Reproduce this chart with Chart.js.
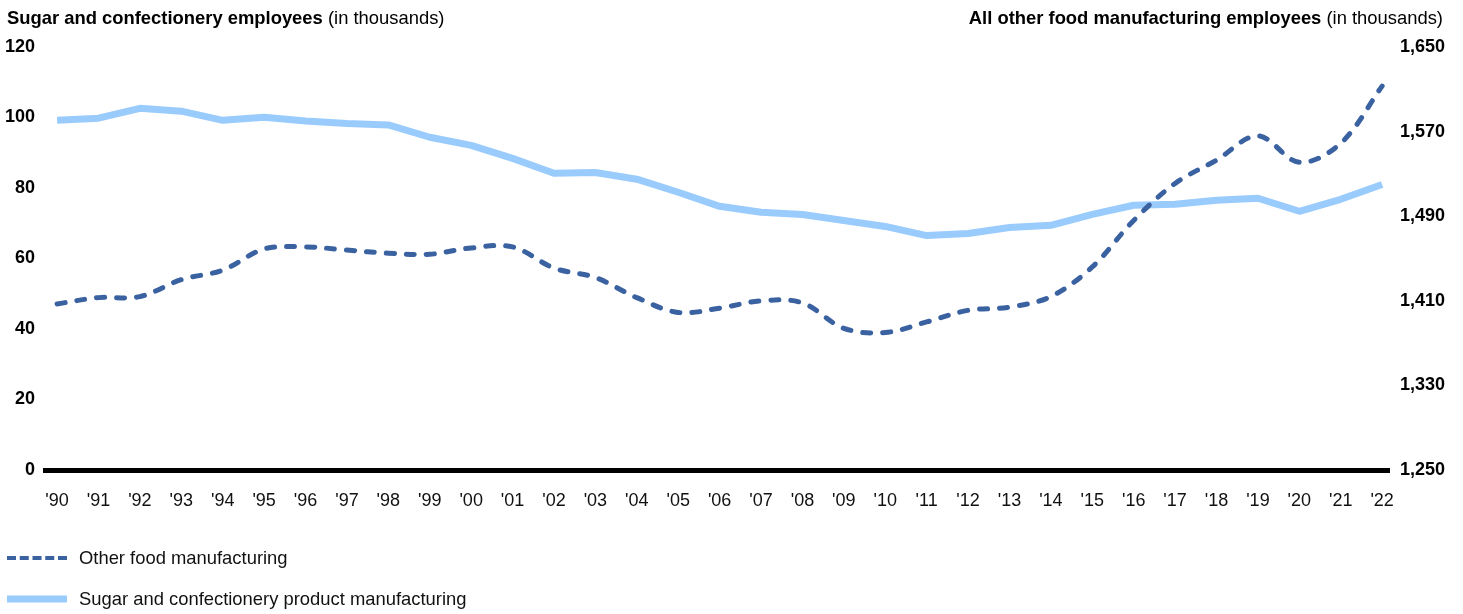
<!DOCTYPE html>
<html>
<head>
<meta charset="utf-8">
<script src="https://cdn.jsdelivr.net/npm/chart.js@4"></script>
<style>
  body { margin: 0; background: #fff; font-family: 'Liberation Sans', Arial, sans-serif; }
  #wrap { position: relative; width: 1463px; height: 614px; }
  #chartBox { position: absolute; left: 0; top: 0; width: 1463px; height: 614px; }
  .title { position: absolute; top: 8px; font-size: 18.4px; line-height: 20px; color: #000; white-space: nowrap; }
  .title b { font-weight: bold; }
  .legend-row { position: absolute; left: 7px; height: 20px; display: flex; align-items: center; font-size: 18.4px; color: #111; white-space: nowrap; }
  .legend-row svg { margin-right: 12px; }
</style>
</head>
<body>
<div id="wrap">
  <div id="chartBox"><canvas id="employeesChart"></canvas></div>

  <div class="title" style="left:7px;"><b>Sugar and confectionery employees</b> (in thousands)</div>
  <div class="title" style="right:20px;"><b>All other food manufacturing employees</b> (in thousands)</div>

  <div class="legend-row" style="top:548px;">
    <svg width="60" height="8"><line x1="0" y1="4" x2="60" y2="4" stroke="#3B62A0" stroke-width="4" stroke-dasharray="9 3.75"/></svg>
    Other food manufacturing
  </div>
  <div class="legend-row" style="top:589px;">
    <svg width="60" height="8"><line x1="0" y1="4" x2="60" y2="4" stroke="#9ACBFD" stroke-width="7"/></svg>
    Sugar and confectionery product manufacturing
  </div>
</div>

<script>
// Years shown on the x axis
const yearLabels = ["'90", "'91", "'92", "'93", "'94", "'95", "'96", "'97", "'98", "'99",
                    "'00", "'01", "'02", "'03", "'04", "'05", "'06", "'07", "'08", "'09",
                    "'10", "'11", "'12", "'13", "'14", "'15", "'16", "'17", "'18", "'19",
                    "'20", "'21", "'22"];

// Sugar and confectionery product manufacturing (thousands, left axis)
const sugarEmployees = [99.2, 99.8, 102.6, 101.8, 99.2, 100.1, 99.0, 98.3, 97.9, 94.4,
                        92.1, 88.4, 84.2, 84.4, 82.5, 78.8, 74.8, 73.1, 72.5, 70.8,
                        69.1, 66.5, 67.1, 68.8, 69.4, 72.5, 75.1, 75.4, 76.5, 77.1,
                        73.4, 76.8, 81.0];

// All other food manufacturing (thousands, right axis)
const otherFoodEmployees = [1407, 1413, 1414, 1430, 1439, 1459, 1461, 1458, 1455, 1454,
                            1460, 1461, 1441, 1432, 1413, 1399, 1403, 1410, 1408, 1384,
                            1380, 1390, 1401, 1404, 1414, 1442, 1486, 1521, 1543, 1566,
                            1541, 1559, 1613];

// Axis tick ranges
const leftTicks = { min: 0, max: 120, step: 20 };
const rightTicks = { min: 1250, max: 1650, step: 80 };

const COLORS = {
  darkBlue: '#3B62A0',
  lightBlue: '#9ACBFD',
  text: '#000',
  xText: '#111',
};

const toPoints = (values) => values.map((v, i) => ({ x: i, y: v }));

const ctx = document.getElementById('employeesChart').getContext('2d');

new Chart(ctx, {
  type: 'line',
  data: {
    datasets: [
      {
        label: 'Other food manufacturing',
        data: toPoints(otherFoodEmployees),
        yAxisID: 'yRight',
        borderColor: COLORS.darkBlue,
        borderWidth: 5,
        borderDash: [8, 12],
        borderCapStyle: 'round',
        borderJoinStyle: 'round',
        tension: 0.35,
        pointRadius: 0,
        order: 0,
      },
      {
        label: 'Sugar and confectionery product manufacturing',
        data: toPoints(sugarEmployees),
        yAxisID: 'yLeft',
        borderColor: COLORS.lightBlue,
        borderWidth: 7,
        borderJoinStyle: 'round',
        tension: 0,
        pointRadius: 0,
        order: 1,
      },
    ],
  },
  options: {
    responsive: true,
    maintainAspectRatio: false,
    animation: false,
    layout: { padding: { top: 47, left: 0, right: 0, bottom: 0 } },
    plugins: {
      legend: { display: false },
      tooltip: { enabled: false },
    },
    scales: {
      x: {
        type: 'linear',
        min: -0.34,
        max: 32.19,
        grid: { display: false, drawTicks: false },
        border: { display: false },
        ticks: {
          stepSize: 1,
          includeBounds: false,
          autoSkip: false,
          maxRotation: 0,
          padding: 20,
          color: COLORS.xText,
          font: { family: "'Liberation Sans', Arial, sans-serif", size: 18 },
          callback: (value) => yearLabels[value],
        },
        afterFit: (scale) => { scale.height = 144; },
      },
      yLeft: {
        position: 'left',
        min: leftTicks.min,
        max: leftTicks.max,
        grid: {
          drawTicks: false,
          // only the zero baseline is drawn, as a heavy black rule
          color: (c) => (c.tick && c.tick.value === 0 ? '#000' : 'rgba(0,0,0,0)'),
          lineWidth: 5,
        },
        border: { display: false },
        ticks: {
          stepSize: leftTicks.step,
          padding: 8,
          color: COLORS.text,
          font: { family: "'Liberation Sans', Arial, sans-serif", size: 18, weight: 'bold' },
        },
        afterFit: (scale) => { scale.width = 43; },
      },
      yRight: {
        position: 'right',
        min: rightTicks.min,
        max: rightTicks.max,
        grid: { display: false, drawTicks: false },
        border: { display: false },
        ticks: {
          stepSize: rightTicks.step,
          padding: 10,
          color: COLORS.text,
          font: { family: "'Liberation Sans', Arial, sans-serif", size: 18, weight: 'bold' },
          callback: (value) => value.toLocaleString('en-US'),
        },
        afterFit: (scale) => { scale.width = 73; },
      },
    },
  },
});
</script>
</body>
</html>
